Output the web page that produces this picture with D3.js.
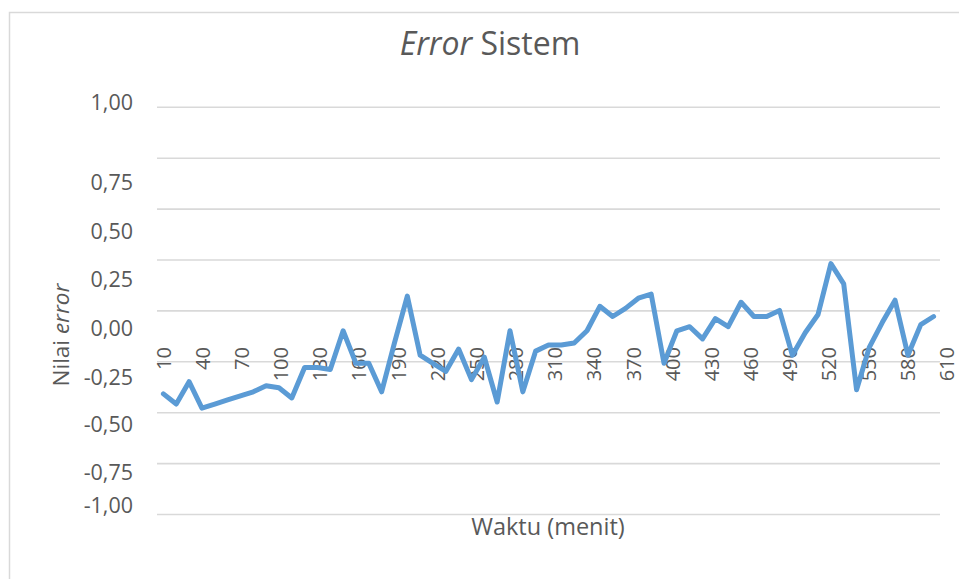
<!DOCTYPE html>
<html>
<head>
<meta charset="utf-8">
<script src="https://cdn.jsdelivr.net/npm/d3@7/dist/d3.min.js"></script>
<style>
  html, body { margin: 0; padding: 0; background: #fff; }
  svg { display: block; font-family: "Open Sans", "Noto Sans", sans-serif; }
</style>
</head>
<body>
<svg id="chart" width="959" height="579"></svg>
<script>
// ---- data ----
const categories = d3.range(10, 611, 10); // 10 .. 610 minutes
const errorValues = [
  -0.41, -0.46, -0.35, -0.48, -0.46, -0.44, -0.42, -0.40, -0.37, -0.38,
  -0.43, -0.28, -0.28, -0.29, -0.10, -0.26, -0.26, -0.40, -0.16, 0.07,
  -0.22, -0.26, -0.30, -0.19, -0.34, -0.23, -0.45, -0.10, -0.40, -0.20,
  -0.17, -0.17, -0.16, -0.10, 0.02, -0.03, 0.01, 0.06, 0.08, -0.26,
  -0.10, -0.08, -0.14, -0.04, -0.08, 0.04, -0.03, -0.03, 0.00, -0.22,
  -0.11, -0.02, 0.23, 0.13, -0.39, -0.18, -0.06, 0.05, -0.22, -0.07,
  -0.03
];
const xTickLabels = [10, 40, 70, 100, 130, 160, 190, 220, 250, 280, 310, 340, 370, 400, 430, 460, 490, 520, 550, 580, 610];
const yTickValues = [1, 0.75, 0.5, 0.25, 0, -0.25, -0.5, -0.75, -1];
const titleMain = "Sistem";
const titleItalic = "Error";
const xAxisTitle = "Waktu (menit)";
const yAxisTitleMain = "Nilai ";
const yAxisTitleItalic = "error";

// ---- layout ----
const svg = d3.select("#chart");
const textColor = "#595959";
const gridColor = "#d9d9d9";
const lineColor = "#5b9bd5";
const plotLeft = 157, plotRight = 940;

const y = d3.scaleLinear().domain([-1, 1]).range([514, 106.8]);
const x = d3.scaleBand().domain(categories).range([plotLeft, plotRight]);
const xLabel = d3.scaleBand().domain(categories).range([plotLeft, 953.5]);
const fmt = v => d3.format(".2f")(v).replace(".", ",").replace("\u2212", "-");
// label nudges (the source's labels sit off their gridlines)
const yLabelNudge = [-4, 25, 22.4, 19.7, 17.7, 15.7, 12.7, 9.7, -9];

// chart border
svg.append("rect")
  .attr("x", 9.5).attr("y", 12.5)
  .attr("width", 980).attr("height", 620)
  .attr("fill", "none").attr("stroke", gridColor).attr("stroke-width", 1.5);

// title
const title = svg.append("text")
  .attr("x", 490).attr("y", 55)
  .attr("text-anchor", "middle")
  .attr("font-size", 32).attr("fill", textColor);
title.append("tspan").attr("font-style", "italic").text(titleItalic);
title.append("tspan").text(" " + titleMain);

// gridlines
svg.append("g")
  .attr("transform", `translate(${plotLeft},0)`)
  .call(d3.axisLeft(y).tickValues(yTickValues).tickSize(-(plotRight - plotLeft)).tickFormat(""))
  .call(g => g.select(".domain").remove())
  .call(g => g.selectAll(".tick line").attr("stroke", gridColor).attr("stroke-width", 1.6));

// y tick labels
svg.append("g").selectAll("text")
  .data(yTickValues)
  .join("text")
  .attr("x", 133)
  .attr("y", (d, i) => y(d) + yLabelNudge[i])
  .attr("dy", "0.35em")
  .attr("text-anchor", "end")
  .attr("font-size", 21.5)
  .attr("fill", textColor)
  .text(d => fmt(d));

// x tick labels (rotated)
svg.append("g").selectAll("text")
  .data(xTickLabels)
  .join("text")
  .attr("transform", d => `translate(${xLabel(d) + xLabel.bandwidth() / 2},347) rotate(-90)`)
  .attr("dy", "0.35em")
  .attr("text-anchor", "end")
  .attr("font-size", 20)
  .attr("fill", textColor)
  .text(d => d);

// line
const line = d3.line()
  .x((d, i) => x(categories[i]) + x.bandwidth() / 2)
  .y(d => y(d));
svg.append("path")
  .datum(errorValues)
  .attr("d", line)
  .attr("fill", "none")
  .attr("stroke", lineColor)
  .attr("stroke-width", 5)
  .attr("stroke-linejoin", "round")
  .attr("stroke-linecap", "round");

// axis titles
svg.append("text")
  .attr("x", 548).attr("y", 527)
  .attr("dy", "0.35em")
  .attr("text-anchor", "middle")
  .attr("font-size", 23.5)
  .attr("fill", textColor)
  .text(xAxisTitle);

const yt = svg.append("text")
  .attr("transform", "translate(61,335) rotate(-90)")
  .attr("dy", "0.35em")
  .attr("text-anchor", "middle")
  .attr("font-size", 22.5)
  .attr("fill", textColor);
yt.append("tspan").text(yAxisTitleMain);
yt.append("tspan").attr("font-style", "italic").text(yAxisTitleItalic);
</script>
</body>
</html>
